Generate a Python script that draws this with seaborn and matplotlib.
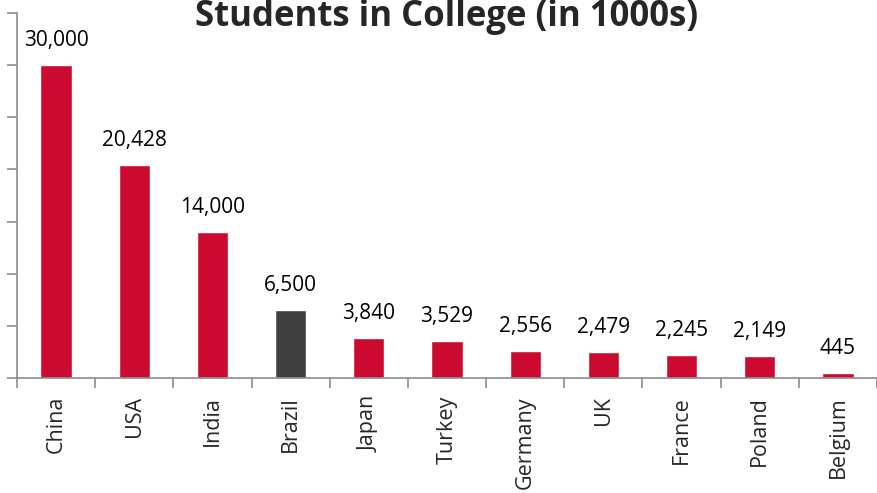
import matplotlib
matplotlib.use("Agg")
import matplotlib.pyplot as plt
import seaborn as sns
import pandas as pd
import numpy as np

countries = ["China", "USA", "India", "Brazil", "Japan", "Turkey",
             "Germany", "UK", "France", "Poland", "Belgium"]
students = [30000, 20428, 14000, 6500, 3840, 3529, 2556, 2479, 2245, 2149, 445]
highlight = "Brazil"

RED = "#CC0A2F"
DARK = "#404040"
AXIS = "#8C8C8C"

sns.set_theme(style="white")
plt.rcParams["font.family"] = ["Open Sans", "DejaVu Sans"]

df = pd.DataFrame({"country": countries, "students": students})
palette = {c: (DARK if c == highlight else RED) for c in countries}

fig = plt.figure(figsize=(8.78, 4.93), dpi=100)
ax = fig.add_axes([17 / 878, 1 - 378 / 493, 860 / 878, 365 / 493])

sns.barplot(data=df, x="country", y="students", hue="country",
            palette=palette, order=countries, width=0.4,
            legend=False, ax=ax, saturation=1)

ax.set_ylim(0, 35000)
ax.set_xlim(-0.5, len(countries) - 0.5)
ax.set_yticks(np.arange(0, 35001, 5000))
ax.set_yticklabels([])
ax.tick_params(axis="y", length=7, width=1.2, color=AXIS, left=True)

# category boundaries carry the ticks, centres carry the labels
ax.set_xticks(np.arange(-0.5, len(countries), 1.0))
ax.set_xticklabels([])
ax.set_xticks(np.arange(len(countries)), minor=True)
ax.set_xticklabels(countries, minor=True, rotation=90, fontsize=15.5)
ax.tick_params(axis="x", which="major", length=7, width=1.2, color=AXIS, bottom=True)
ax.tick_params(axis="x", which="minor", length=0, pad=13)

ax.set_xlabel("")
ax.set_ylabel("")
for side in ("top", "right"):
    ax.spines[side].set_visible(False)
for side in ("left", "bottom"):
    ax.spines[side].set_color(AXIS)
    ax.spines[side].set_linewidth(1.2)

for i, v in enumerate(students):
    ax.annotate(f"{v:,}", (i, v), xytext=(0, 10), textcoords="offset points",
                ha="center", va="bottom", fontsize=15, color="black")

fig.text(447 / 878, 1 - 26 / 493, "Students in College (in 1000s)",
         ha="center", va="baseline", fontsize=25, fontweight="bold")

fig.savefig("out.png", dpi=100)
